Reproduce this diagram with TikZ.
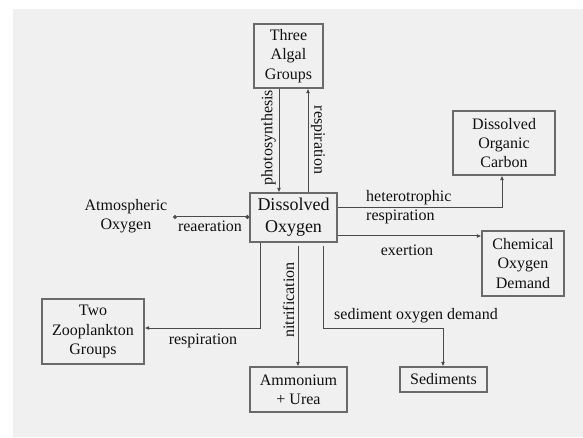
\documentclass[tikz,border=0pt]{standalone}
\usepackage{fontspec}
\setmainfont{Liberation Serif}
\usetikzlibrary{arrows.meta,calc}
\definecolor{bgc}{HTML}{F0F0F0}
\definecolor{boxc}{HTML}{6A6A6A}
\definecolor{linec}{HTML}{4A4A4A}
\definecolor{txtc}{HTML}{101010}
\tikzset{
  box/.style={draw=boxc, line width=1.2pt, fill=bgc, rectangle, align=center, inner sep=0pt, text=txtc, font=\fontsize{16}{19.3}\selectfont},
  lbl/.style={text=txtc, inner sep=0pt, font=\fontsize{16}{19.3}\selectfont},
  conn/.style={draw=linec, line width=1pt, -{Latex[length=4.5pt,width=4pt]}},
  dconn/.style={draw=linec, line width=1pt, {Circle[length=4pt]}-{Circle[length=4pt]}}
}
\begin{document}
\begin{tikzpicture}[x=1pt,y=-1pt]
\useasboundingbox (0,0) rectangle (583,438);
\fill[white] (0,0) rectangle (583,438);
\fill[bgc] (13,9) rectangle (583,437);

% boxes
\node[box, minimum width=69pt, minimum height=64pt] (alg) at (288.5,56) {Three\\Algal\\Groups};
\node[box, minimum width=87pt, minimum height=49pt, font=\fontsize{18}{21.7}\selectfont] (do) at (293.5,217.5) {Dissolved\\Oxygen};
\node[box, minimum width=102pt, minimum height=64pt] (doc) at (504,143) {Dissolved\\Organic\\Carbon};
\node[box, minimum width=82pt, minimum height=65pt] (cod) at (523,263.5) {Chemical\\Oxygen\\Demand};
\node[box, minimum width=102pt, minimum height=65pt] (zoo) at (93,331.5) {Two\\Zooplankton\\Groups};
\node[box, minimum width=97pt, minimum height=45pt] (amm) at (298.5,389.5) {Ammonium\\+ Urea};
\node[box, minimum width=87pt, minimum height=25pt] (sed) at (443.5,379.5) {Sediments};
\node[lbl, align=center] (atm) at (126,216) {Atmospheric\\Oxygen};

% helper coordinates
\coordinate (xp) at (279,0);
\coordinate (xr) at (308,0);
\coordinate (yh) at (0,208);
\coordinate (xh) at (502,0);
\coordinate (ye) at (0,236);
\coordinate (xz) at (260,0);
\coordinate (yz) at (0,328);
\coordinate (xn) at (298,0);
\coordinate (xs) at (323,0);
\coordinate (xs2) at (443,0);
\coordinate (ra) at (173,217);

% connectors
\draw[conn] (alg.south -| xp) -- (do.north -| xp);
\draw[conn] (do.north -| xr) -- (alg.south -| xr);
\draw[dconn] (ra) -- (do.west |- ra);
\draw[conn] (do.east |- yh) -- (xh |- yh) -- (doc.south -| xh);
\draw[conn] (do.east |- ye) -- (cod.west |- ye);
\draw[conn] (do.south -| xz) -- (xz |- yz) -- (zoo.east |- yz);
\draw[conn, shorten <=3pt] (do.south -| xn) -- (amm.north -| xn);
\draw[conn, shorten <=3pt] (do.south -| xs) -- (xs |- yz) -- (xs2 |- yz) -- (sed.north -| xs2);

% labels
\node[lbl, rotate=90] (lph) at (268.5,137.5) {photosynthesis};
\node[lbl, rotate=-90] (lra) at (318,140) {respiration};
\node[lbl] (lre) at (210,226) {reaeration};
\node[lbl, align=left, anchor=west] (lhr) at (366,207) {heterotrophic\\respiration};
\node[lbl] (lex) at (407,250) {exertion};
\node[lbl] (lzr) at (203,341) {respiration};
\node[lbl, rotate=90] (lni) at (288.5,300) {nitrification};
\node[lbl] (lsod) at (416,316) {sediment oxygen demand};
\end{tikzpicture}
\end{document}
